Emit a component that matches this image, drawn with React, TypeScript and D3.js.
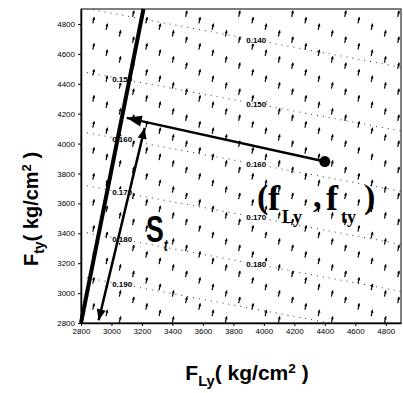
import React, { useEffect, useRef } from 'react'
import * as d3 from 'd3'

// axis ticks (kg/cm2)
const xTicks = [2800, 3000, 3200, 3400, 3600, 3800, 4000, 4200, 4400, 4600, 4800]
const yTicks = [2800, 3000, 3200, 3400, 3600, 3800, 4000, 4200, 4400, 4600, 4800]

// dotted contour lines: level, Fty where the line meets FLy = 2800, shared slope
const contourLevels = [0.14, 0.15, 0.16, 0.17, 0.18, 0.19]
const contourStart = [4910, 4483, 4080, 3725, 3411, 3110]
const contourSlope = -0.19
const contourLabelAt = [[3950], [3070, 3950], [3070, 3950], [3070, 3950], [3070, 3950], [3070]]

// vector field lattice
const fieldXs = [2882, 2969, 3056, 3143, 3230, 3317, 3404, 3491, 3578, 3665, 3752, 3839, 3926, 4013, 4100, 4187, 4274, 4361, 4448, 4535, 4622, 4709, 4796, 4883]
const fieldYs = [4998, 4824, 4650, 4476, 4302, 4128, 3954, 3780, 3606, 3432, 3258, 3084, 2910]
const fieldShift = [0, 43, 87, 130]
const fieldDir = [0.22, 1]

// limit line, S_t span, current stress point and its return point
const limitLine = [[2800, 2800], [3210, 4900]]
const slipSpan = [[3218, 4105], [2916, 2818]]
const stressPoint = [4400, 3880]
const returnPoint = [3100, 4172]

const W = 403
const H = 393

const App = () => {
  const refSvg = useRef(null)

  const draw = () => {
    const svg = d3.select(refSvg.current)
    svg.selectAll('*').remove()

    const x = d3.scaleLinear().domain([2800, 4900]).range([81, 401])
    const y = d3.scaleLinear().domain([2800, 4900]).range([323, 9])

    svg.append('rect').attr('width', W).attr('height', H).attr('fill', '#fff')

    svg
      .append('clipPath')
      .attr('id', 'plot')
      .append('rect')
      .attr('x', x(2800))
      .attr('y', y(4900))
      .attr('width', x(4900) - x(2800))
      .attr('height', y(2800) - y(4900))

    const plot = svg.append('g').attr('clip-path', 'url(#plot)')

    const head = (tip: number[], from: number[], len: number, wid: number) => {
      const dx = tip[0] - from[0]
      const dy = tip[1] - from[1]
      const d = Math.sqrt(dx * dx + dy * dy)
      const ux = dx / d
      const uy = dy / d
      const bx = tip[0] - ux * len
      const by = tip[1] - uy * len
      return [
        [tip[0], tip[1]],
        [bx - uy * wid / 2, by + ux * wid / 2],
        [bx + uy * wid / 2, by - ux * wid / 2],
      ]
        .map((p) => p.join(','))
        .join(' ')
    }

    const level = (i: number, v: number) => contourStart[i] + contourSlope * (v - 2800)

    // contours
    contourLevels.forEach((lv, i) => {
      plot
        .append('line')
        .attr('x1', x(2800))
        .attr('y1', y(level(i, 2800)))
        .attr('x2', x(4900))
        .attr('y2', y(level(i, 4900)))
        .attr('stroke', '#333')
        .attr('stroke-width', 1)
        .attr('stroke-dasharray', '1 5')
    })

    // vector field
    const dl = Math.sqrt(fieldDir[0] * fieldDir[0] + fieldDir[1] * fieldDir[1])
    const ux = fieldDir[0] / dl
    const uy = -fieldDir[1] / dl
    fieldXs.forEach((fx, ci) => {
      fieldYs.forEach((fy) => {
        const vy = fy - fieldShift[ci % 4]
        if (vy < 2815 || vy > 4890) return
        const cx = x(fx)
        const cy = y(vy)
        const t = [cx + ux * 3.2, cy + uy * 3.2]
        const b = [cx - ux * 3.2, cy - uy * 3.2]
        plot
          .append('line')
          .attr('x1', b[0])
          .attr('y1', b[1])
          .attr('x2', t[0])
          .attr('y2', t[1])
          .attr('stroke', '#000')
          .attr('stroke-width', 1.2)
        plot.append('polygon').attr('points', head(t, b, 2.8, 3)).attr('fill', '#000')
      })
    })

    // contour labels on top
    contourLevels.forEach((lv, i) => {
      contourLabelAt[i].forEach((lx) => {
        plot
          .append('text')
          .attr('x', x(lx))
          .attr('y', y(level(i, lx)) + 3)
          .attr('text-anchor', 'middle')
          .attr('font-family', 'Liberation Sans, Arial, sans-serif')
          .attr('font-size', 8)
          .attr('font-weight', 'bold')
          .attr('stroke', '#fff')
          .attr('stroke-width', 2)
          .attr('paint-order', 'stroke')
          .text(lv.toFixed(3))
      })
    })

    // frame
    svg
      .append('rect')
      .attr('x', x(2800))
      .attr('y', y(4900))
      .attr('width', x(4900) - x(2800))
      .attr('height', y(2800) - y(4900))
      .attr('fill', 'none')
      .attr('stroke', '#000')
      .attr('stroke-width', 1)

    const gx = svg
      .append('g')
      .attr('transform', `translate(0,${y(2800)})`)
      .call(d3.axisBottom(x).tickValues(xTicks).tickSize(3).tickSizeOuter(0).tickFormat(d3.format('d')))
    const gy = svg
      .append('g')
      .attr('transform', `translate(${x(2800)},0)`)
      .call(d3.axisLeft(y).tickValues(yTicks).tickSize(3).tickSizeOuter(0).tickFormat(d3.format('d')))
    ;[gx, gy].forEach((g) => {
      g.select('.domain').attr('stroke-width', 1.5)
      g.selectAll('text').attr('font-family', 'Liberation Sans, Arial, sans-serif').attr('font-size', 8).attr('fill', '#000')
    })
    gx.selectAll('text').attr('dy', '0.6em')

    // limit line
    svg
      .append('line')
      .attr('x1', x(limitLine[0][0]))
      .attr('y1', y(limitLine[0][1]))
      .attr('x2', x(limitLine[1][0]))
      .attr('y2', y(limitLine[1][1]))
      .attr('stroke', '#000')
      .attr('stroke-width', 4)

    // S_t double arrow
    const s0 = [x(slipSpan[0][0]), y(slipSpan[0][1])]
    const s1 = [x(slipSpan[1][0]), y(slipSpan[1][1])]
    svg.append('line').attr('x1', s0[0]).attr('y1', s0[1]).attr('x2', s1[0]).attr('y2', s1[1]).attr('stroke', '#000').attr('stroke-width', 2.5)
    svg.append('polygon').attr('points', head(s0, s1, 11, 9)).attr('fill', '#000')
    svg.append('polygon').attr('points', head(s1, s0, 11, 9)).attr('fill', '#000')

    // return arrow from the stress point
    const p0 = [x(stressPoint[0]), y(stressPoint[1])]
    const p1 = [x(returnPoint[0]), y(returnPoint[1])]
    svg.append('line').attr('x1', p0[0]).attr('y1', p0[1]).attr('x2', p1[0]).attr('y2', p1[1]).attr('stroke', '#000').attr('stroke-width', 2.5)
    svg.append('polygon').attr('points', head(p1, p0, 15, 11)).attr('fill', '#000')
    svg.append('circle').attr('cx', p0[0]).attr('cy', p0[1]).attr('r', 5.5).attr('fill', '#000')

    // (f_Ly , f_ty)
    const serif = 'Liberation Serif, Times New Roman, serif'
    const big = [
      ['(', 257, 208, 34],
      ['f', 268, 210, 36],
      ['Ly', 282, 223, 18],
      [',', 313, 207, 34],
      ['f', 326, 210, 36],
      ['ty', 341, 223, 18],
      [')', 364, 208, 34],
    ]
    big.forEach(([t, tx, ty, fs]) => {
      svg
        .append('text')
        .attr('x', tx as number)
        .attr('y', ty as number)
        .attr('font-family', serif)
        .attr('font-weight', 'bold')
        .attr('font-size', fs as number)
        .text(t as string)
    })

    // S_t
    const st = svg.append('text').attr('transform', 'translate(146,242) scale(0.72,1)').attr('font-family', 'Liberation Sans, Arial, sans-serif').attr('font-weight', 'bold')
    st.append('tspan').attr('font-size', 37).text('S')
    st.append('tspan').attr('font-size', 17).attr('dy', 9).attr('font-style', 'italic').text('t')

    // axis titles
    const title = (g: d3.Selection<SVGTextElement, unknown, null, undefined>, sub: string, fs: number) => {
      g.attr('font-family', 'Liberation Sans, Arial, sans-serif').attr('font-weight', 'bold').attr('font-size', fs).attr('text-anchor', 'middle')
      g.append('tspan').text('F')
      g.append('tspan').attr('font-size', fs * 0.7).attr('dy', fs * 0.28).text(sub)
      g.append('tspan').attr('dy', -fs * 0.28).text('( kg/cm')
      g.append('tspan').attr('font-size', fs * 0.65).attr('dy', -fs * 0.35).text('2')
      g.append('tspan').attr('dy', fs * 0.35).text(' )')
    }
    title(svg.append('text').attr('x', 247).attr('y', 380), 'Ly', 21)
    title(svg.append('text').attr('transform', 'translate(38,209) rotate(-90)'), 'ty', 20)
  }

  useEffect(() => {
    if (refSvg) {
      draw()
    }
  })

  return <svg ref={refSvg} width={W} height={H} style={{ position: 'absolute', left: 0, top: 0 }} />
}

export default App
